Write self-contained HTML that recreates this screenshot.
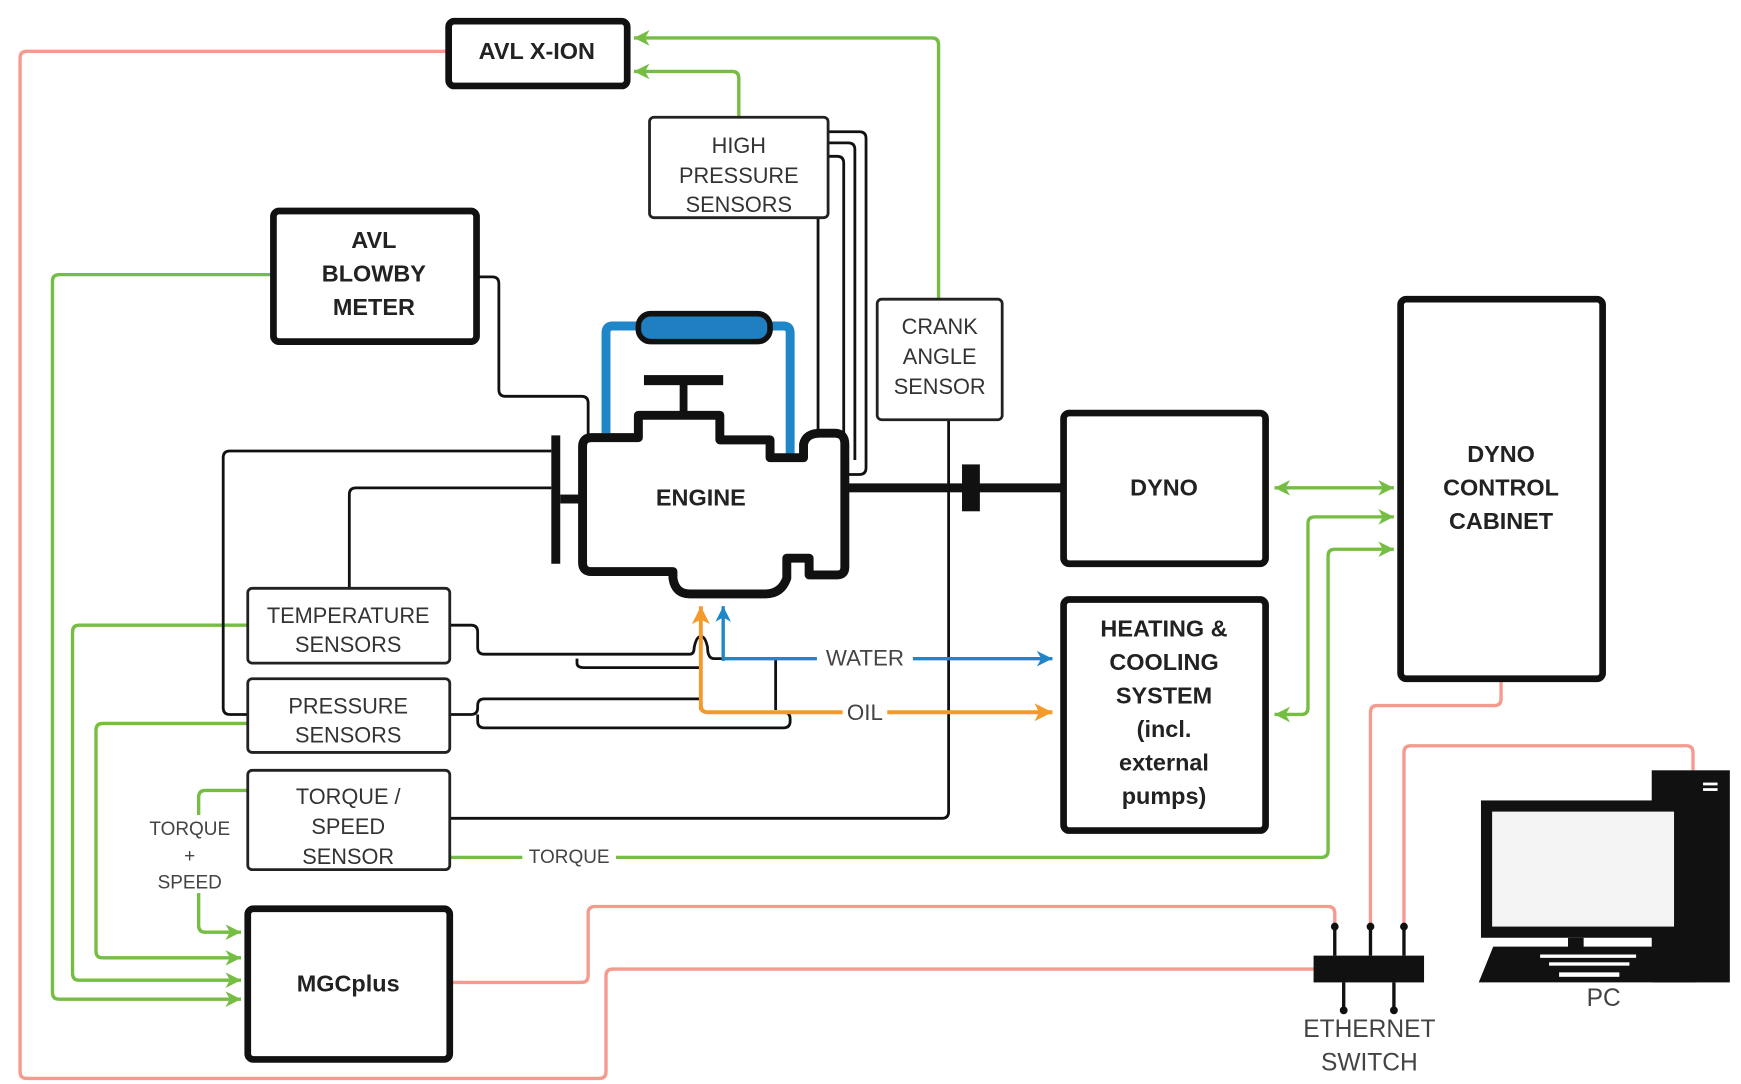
<!DOCTYPE html>
<html><head><meta charset="utf-8"><style>
html,body{margin:0;padding:0;background:#fff;}
svg{display:block;}
text{font-family:"Liberation Sans",sans-serif;}
.b{font-weight:bold;font-size:21px;fill:#222;}
.r{font-size:19.5px;fill:#333;}
</style></head><body>
<svg width="1741" height="1084" viewBox="0 0 1560 971" preserveAspectRatio="none" xmlns="http://www.w3.org/2000/svg">
<defs>
<marker id="ag" markerUnits="userSpaceOnUse" markerWidth="16" markerHeight="14" refX="14" refY="7" orient="auto"><path d="M0,0 L14,7 L0,14 L4,7 Z" fill="#76bd43"/></marker>
<marker id="agb" markerUnits="userSpaceOnUse" markerWidth="16" markerHeight="14" refX="2" refY="7" orient="auto"><path d="M16,0 L2,7 L16,14 L12,7 Z" fill="#76bd43"/></marker>
<marker id="ab" markerUnits="userSpaceOnUse" markerWidth="16" markerHeight="14" refX="14" refY="7" orient="auto"><path d="M0,0 L14,7 L0,14 L4,7 Z" fill="#1f86c8"/></marker>
<marker id="ao" markerUnits="userSpaceOnUse" markerWidth="18" markerHeight="16" refX="16" refY="8" orient="auto"><path d="M0,0 L16,8 L0,16 L4,8 Z" fill="#f39a2b"/></marker>
</defs>

<!-- red lines -->
<g fill="none" stroke="#f59a8e" stroke-width="3">
<path d="M400 46 H24 Q18 46 18 52 V960 Q18 966 24 966 H537 Q543 966 543 960 V874 Q543 868 549 868 H1177"/>
<path d="M404 880 H521 Q527 880 527 874 V818 Q527 812 533 812 H1190 Q1196 812 1196 818 V830"/>
<path d="M1345 609 V626 Q1345 632 1339 632 H1234 Q1228 632 1228 638 V830"/>
<path d="M1517 690 V674 Q1517 668 1511 668 H1264 Q1258 668 1258 674 V830"/>
</g>

<!-- green lines -->
<g fill="none" stroke="#76bd43" stroke-width="3">
<path d="M841 268 V40 Q841 34 835 34 H568" marker-end="url(#ag)"/>
<path d="M662 105 V70 Q662 64 656 64 H568" marker-end="url(#ag)"/>
<path d="M243 246 H53 Q47 246 47 252 V889 Q47 895 53 895 H216" marker-end="url(#ag)"/>
<path d="M222 560 H71 Q65 560 65 566 V872 Q65 878 71 878 H216" marker-end="url(#ag)"/>
<path d="M222 648 H92 Q86 648 86 654 V852 Q86 858 92 858 H216" marker-end="url(#ag)"/>
<path d="M222 708 H184 Q178 708 178 714 V829 Q178 835 184 835 H216" marker-end="url(#ag)"/>
<path d="M403 768 H1184 Q1190 768 1190 762 V498 Q1190 492 1196 492 H1249" marker-end="url(#ag)"/>
<path d="M1142 437 H1249" marker-start="url(#agb)" marker-end="url(#ag)"/>
<path d="M1142 640 H1166 Q1172 640 1172 634 V469 Q1172 463 1178 463 H1249" marker-start="url(#agb)" marker-end="url(#ag)"/>
</g>

<!-- black thin lines -->
<g fill="none" stroke="#111" stroke-width="2.5">
<path d="M428 248 H441 Q447 248 447 254 V349 Q447 355 453 355 H521 Q527 355 527 361 V390"/>
<path d="M742 118 H770 Q776 118 776 124 V419 Q776 425 770 425 H760"/>
<path d="M742 128 H760 Q766 128 766 134 V412"/>
<path d="M742 140 H750 Q756 140 756 146 V392"/>
<path d="M733 195 V390"/>
<path d="M494 404 H206 Q200 404 200 410 V634 Q200 640 206 640 H222"/>
<path d="M494 437 H319 Q313 437 313 443 V527"/>
<path d="M403 560 H422 Q428 560 428 566 V580 Q428 586 434 586 H618 Q622 586 622 580 Q624 570 628 570 Q632 570 634 580 Q634 590 640 590 H648"/>
<path d="M517 590 V594 Q517 598 523 598 H628"/>
<path d="M403 640 H422 Q428 640 428 634 V632 Q428 626 434 626 H628"/>
<path d="M428 640 V646 Q428 652 434 652 H702 Q708 652 708 646 V644 Q708 638 702 638"/>
<path d="M695 590 V636"/>
<path d="M403 733 H844 Q850 733 850 727 V376"/>
</g>

<!-- water / oil -->
<g fill="none" stroke-width="3">
<path d="M648 592 V543" stroke="#1f86c8" marker-end="url(#ab)"/>
<path d="M648 590 H943" stroke="#1f86c8" marker-end="url(#ab)"/>
<path d="M628 636 V543" stroke="#f39a2b" stroke-width="3.5" marker-end="url(#ao)"/>
<path d="M628 632 Q628 638 634 638 H943" stroke="#f39a2b" stroke-width="3.5" marker-end="url(#ao)"/>
</g>

<!-- radiator -->
<path d="M543 388 V298 Q543 292 549 292 H572 M690 292 H702 Q708 292 708 298 V408" fill="none" stroke="#1f86c8" stroke-width="8"/>
<rect x="572" y="281" width="118" height="25" rx="11" fill="#1f7fc0" stroke="#111" stroke-width="5"/>
<!-- valve -->
<rect x="577" y="336" width="71" height="9" fill="#111"/>
<rect x="609" y="340" width="7" height="32" fill="#111"/>
<!-- engine -->
<path d="M530 392 H572 V372 H645 V394 H690 V410 H720 V398 Q722 388 735 388 H748 Q757 388 757 398 V508 Q757 515 750 515 H725 V500 H705 V518 Q700 532 686 532 H618 Q605 532 603 518 V512 H530 Q522 512 522 504 V400 Q522 392 530 392 Z" fill="#fff" stroke="#111" stroke-width="8" stroke-linejoin="round"/>
<rect x="494" y="390" width="8" height="115" fill="#111"/>
<rect x="502" y="443" width="20" height="8" fill="#111"/>
<text x="628" y="453" class="b" text-anchor="middle">ENGINE</text>
<!-- shaft -->
<rect x="760" y="433" width="191" height="8" fill="#111"/>
<rect x="862" y="416" width="16" height="42" fill="#111"/>

<!-- thick boxes -->
<g fill="#fff" stroke="#111" stroke-width="6">
<rect x="402" y="19" width="160" height="58" rx="5"/>
<rect x="245" y="189" width="182" height="117" rx="5"/>
<rect x="953" y="370" width="181" height="135" rx="5"/>
<rect x="1255" y="268" width="181" height="340" rx="5"/>
<rect x="953" y="537" width="181" height="207" rx="5"/>
<rect x="222" y="814" width="181" height="135" rx="5"/>
</g>
<!-- thin boxes -->
<g fill="#fff" stroke="#222" stroke-width="2.5">
<rect x="582" y="105" width="160" height="90" rx="4"/>
<rect x="786" y="268" width="112" height="108" rx="4"/>
<rect x="222" y="527" width="181" height="67" rx="4"/>
<rect x="222" y="608" width="181" height="66" rx="4"/>
<rect x="222" y="690" width="181" height="89" rx="4"/>
</g>

<g text-anchor="middle">
<text x="481" y="53" class="b">AVL X-ION</text>
<text x="335" y="222" class="b">AVL</text>
<text x="335" y="252" class="b">BLOWBY</text>
<text x="335" y="282" class="b">METER</text>
<text x="1043" y="444" class="b">DYNO</text>
<text x="1345" y="414" class="b">DYNO</text>
<text x="1345" y="444" class="b">CONTROL</text>
<text x="1345" y="474" class="b">CABINET</text>
<text x="1043" y="570" class="b">HEATING &amp;</text>
<text x="1043" y="600" class="b">COOLING</text>
<text x="1043" y="630" class="b">SYSTEM</text>
<text x="1043" y="660" class="b">(incl.</text>
<text x="1043" y="690" class="b">external</text>
<text x="1043" y="720" class="b">pumps)</text>
<text x="312" y="888" class="b">MGCplus</text>

<text x="662" y="137" class="r">HIGH</text>
<text x="662" y="164" class="r">PRESSURE</text>
<text x="662" y="190" class="r">SENSORS</text>
<text x="842" y="299" class="r">CRANK</text>
<text x="842" y="326" class="r">ANGLE</text>
<text x="842" y="353" class="r">SENSOR</text>
<text x="312" y="558" class="r">TEMPERATURE</text>
<text x="312" y="584" class="r">SENSORS</text>
<text x="312" y="639" class="r">PRESSURE</text>
<text x="312" y="665" class="r">SENSORS</text>
<text x="312" y="720" class="r">TORQUE /</text>
<text x="312" y="747" class="r">SPEED</text>
<text x="312" y="774" class="r">SENSOR</text>
</g>

<!-- labels on lines -->
<g text-anchor="middle" font-size="17">
<rect x="127" y="730" width="86" height="70" fill="#fff"/>
<text x="170" y="748" fill="#444">TORQUE</text>
<text x="170" y="772" fill="#444">+</text>
<text x="170" y="796" fill="#444">SPEED</text>
<rect x="468" y="758" width="84" height="20" fill="#fff"/>
<text x="510" y="773" fill="#444">TORQUE</text>
<rect x="732" y="578" width="86" height="24" fill="#fff"/>
<text x="775" y="596" fill="#444" font-size="20">WATER</text>
<rect x="755" y="626" width="40" height="24" fill="#fff"/>
<text x="775" y="645" fill="#444" font-size="20">OIL</text>
</g>

<!-- ethernet switch -->
<g fill="#111" stroke="#111">
<rect x="1177" y="856" width="99" height="24" stroke="none"/>
<line x1="1196" y1="830" x2="1196" y2="856" stroke-width="3"/>
<line x1="1228" y1="830" x2="1228" y2="856" stroke-width="3"/>
<line x1="1258" y1="830" x2="1258" y2="856" stroke-width="3"/>
<circle cx="1196" cy="830" r="3"/><circle cx="1228" cy="830" r="3"/><circle cx="1258" cy="830" r="3"/>
<line x1="1204" y1="880" x2="1204" y2="905" stroke-width="3"/>
<line x1="1249" y1="880" x2="1249" y2="905" stroke-width="3"/>
<circle cx="1204" cy="905" r="3"/><circle cx="1249" cy="905" r="3"/>
</g>
<text x="1227" y="929" text-anchor="middle" font-size="22" fill="#444">ETHERNET</text>
<text x="1227" y="959" text-anchor="middle" font-size="22" fill="#444">SWITCH</text>

<!-- PC -->
<rect x="1480" y="690" width="70" height="190" fill="#111"/>
<rect x="1526" y="701" width="13" height="2.5" fill="#fff"/>
<rect x="1526" y="706" width="13" height="2.5" fill="#fff"/>
<rect x="1327" y="717" width="181" height="123" fill="#111"/>
<rect x="1337" y="727" width="163" height="103" fill="#f4f4f4"/>
<rect x="1405" y="840" width="14" height="10" fill="#111"/>
<rect x="1482" y="840" width="20" height="10" fill="#111"/>
<polygon points="1338,848 1508,848 1520,880 1325,880" fill="#111"/>
<g fill="#fff">
<rect x="1380" y="855" width="86" height="3"/>
<rect x="1388" y="862" width="72" height="3"/>
<rect x="1397" y="871" width="54" height="4"/>
</g>
<text x="1437" y="901" text-anchor="middle" font-size="22" fill="#444">PC</text>
</svg>
</body></html>
